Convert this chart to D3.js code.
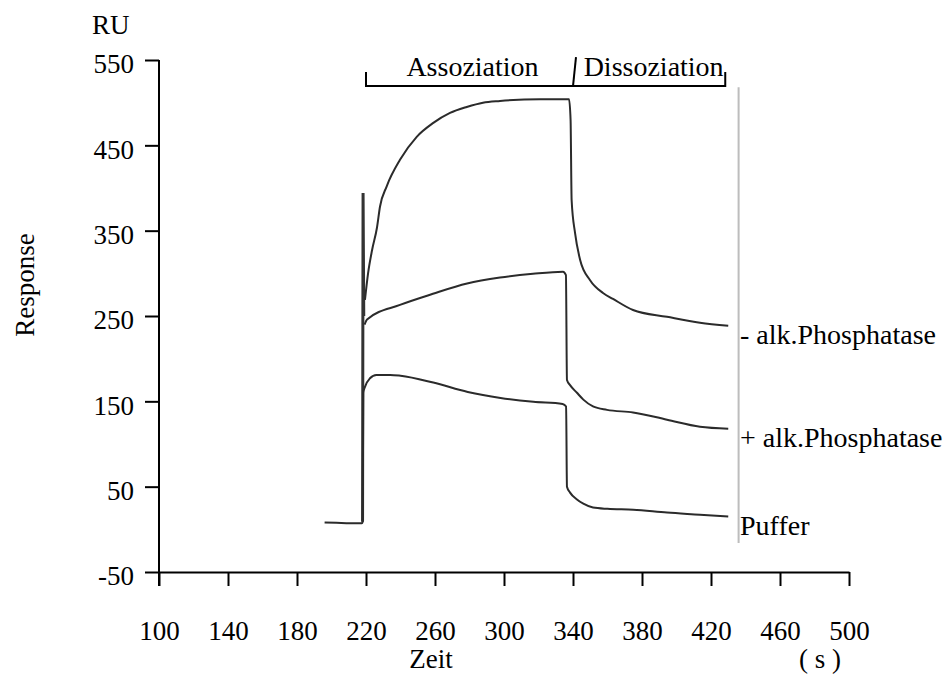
<!DOCTYPE html>
<html>
<head>
<meta charset="utf-8">
<script src="https://cdn.jsdelivr.net/npm/d3@7"></script>
<style>
  body { margin: 0; background: #fff; }
  svg text { font-family: "Liberation Serif", "Times New Roman", serif; fill: #000; }
</style>
</head>
<body>
<div id="chart"></div>
<script>
const width = 943;
const height = 677;

// time (s) / response (RU)
const spike = [[218.0, 9], [218.3, 394], [218.7, 250]];

const puffer = [[196, 8], [217.6, 7], [218.1, 9], [218.4, 160], [219.4, 167], [222.3, 177], [226, 181],
  [234, 181], [240, 180], [259, 172], [279, 161], [298, 154], [317, 149.5], [334, 147], [336, 144],
  [336.5, 50], [338.3, 43], [342.3, 35], [346, 30], [351.6, 25.5], [360, 24], [375, 23],
  [394.5, 19.6], [413.6, 17.2], [430, 15]];

const plusAP = [[219.2, 240], [220.6, 246], [239.7, 263], [258.8, 276], [278.6, 288], [297.7, 295],
  [316.8, 299.5], [334.2, 302], [335.9, 298], [336.5, 175], [338.3, 169], [342.3, 160], [346, 152],
  [351.6, 144], [359.7, 140], [374.8, 137], [394.5, 128.5], [413.6, 120.3], [430, 118]];

const minusAP = [[219.4, 269], [221.2, 300], [223.5, 327], [226.4, 354], [228.1, 378], [232, 402],
  [239.7, 433], [249.4, 460], [258.8, 476], [268.7, 488], [278.4, 495], [287.8, 500], [297.7, 502],
  [320.9, 504], [337.7, 504], [338.6, 480], [339.2, 386], [341.2, 347], [344.1, 316], [349.9, 292],
  [357.4, 277], [363.2, 270], [374.8, 257], [394.5, 249], [413.6, 242], [430, 238.5]];

const seriesNames = ["- alk.Phosphatase", "+ alk.Phosphatase", "Puffer"];
const xTicks = [100, 140, 180, 220, 260, 300, 340, 380, 420, 460, 500];
const yTicks = [550, 450, 350, 250, 150, 50, -50];
const phases = [["Assoziation", 220, 340], ["Dissoziation", 340, 430]];

const svg = d3.select("#chart")
  .append("svg")
  .attr("width", width)
  .attr("height", height);

const x = d3.scaleLinear().domain([100, 500]).range([159, 849]);
const y = d3.scaleLinear().domain([-50, 550]).range([572, 60]);

// axes
const xAxis = svg.append("g")
  .attr("transform", `translate(0,${y(-50)})`)
  .call(d3.axisBottom(x).tickValues(xTicks).tickSize(14).tickPadding(35).tickSizeOuter(0)
    .tickFormat(d => String(d)));
const yAxis = svg.append("g")
  .attr("transform", `translate(${x(100)},0)`)
  .call(d3.axisLeft(y).tickValues(yTicks).tickSize(14).tickPadding(11).tickSizeOuter(0)
    .tickFormat(d => String(d)));

[xAxis, yAxis].forEach(g => {
  g.attr("font-family", null);
  g.select(".domain").attr("stroke", "#000").attr("stroke-width", 2);
  g.selectAll(".tick line").attr("stroke", "#000").attr("stroke-width", 2);
  g.selectAll(".tick text").style("font-size", "27px");
});
yAxis.selectAll(".tick text").attr("dy", "0.48em");
// y-axis runs a little past the x-axis, like the 100 tick
yAxis.select(".domain").attr("d", `M0,${y(550)}V${y(-50) + 14}`);

// axis titles
svg.append("text").attr("x", 92).attr("y", 34).style("font-size", "27px").text("RU");
svg.append("text")
  .attr("transform", `translate(34,285) rotate(-90)`)
  .attr("text-anchor", "middle")
  .style("font-size", "27px")
  .text("Response");
svg.append("text").attr("x", 431).attr("y", 668).attr("text-anchor", "middle")
  .style("font-size", "27px").text("Zeit");
svg.append("text").attr("x", 820).attr("y", 668).attr("text-anchor", "middle")
  .style("font-size", "27px").text("( s )");

// phase bracket
const by = y(519.5);
const bracket = svg.append("g").attr("fill", "none").attr("stroke", "#000").attr("stroke-width", 2);
bracket.append("path")
  .attr("d", `M${x(220)},${by - 14}V${by}H${x(430) - 3}V${by - 14}`);
bracket.append("line")
  .attr("x1", x(340)).attr("y1", by).attr("x2", x(340) + 3).attr("y2", by - 29);
svg.selectAll(".phase")
  .data(phases)
  .join("text")
  .attr("class", "phase")
  .attr("x", d => (x(d[1]) + x(d[2])) / 2 + 3)
  .attr("y", by - 10)
  .attr("text-anchor", "middle")
  .style("font-size", "28px")
  .text(d => d[0]);

// gray marker line at end of run
svg.append("line")
  .attr("x1", x(436)).attr("x2", x(436))
  .attr("y1", y(518)).attr("y2", y(-16))
  .attr("stroke", "#bdbdbd").attr("stroke-width", 2);

// curves
const line = d3.line().x(d => x(d[0])).y(d => y(d[1])).curve(d3.curveMonotoneX);
const curves = [minusAP, plusAP, puffer];

svg.append("path")
  .attr("d", d3.line().x(d => x(d[0])).y(d => y(d[1]))(spike))
  .attr("fill", "none").attr("stroke", "#333").attr("stroke-width", 3);

svg.selectAll(".curve")
  .data(curves)
  .join("path")
  .attr("class", "curve")
  .attr("d", line)
  .attr("fill", "none")
  .attr("stroke", "#2b2b2b")
  .attr("stroke-width", 2)
  .attr("stroke-linejoin", "round");

svg.selectAll(".series-label")
  .data(curves)
  .join("text")
  .attr("class", "series-label")
  .attr("x", 740)
  .attr("y", d => y(d[d.length - 1][1]))
  .attr("dy", "0.66em")
  .style("font-size", "28px")
  .text((d, i) => seriesNames[i]);
</script>
</body>
</html>
